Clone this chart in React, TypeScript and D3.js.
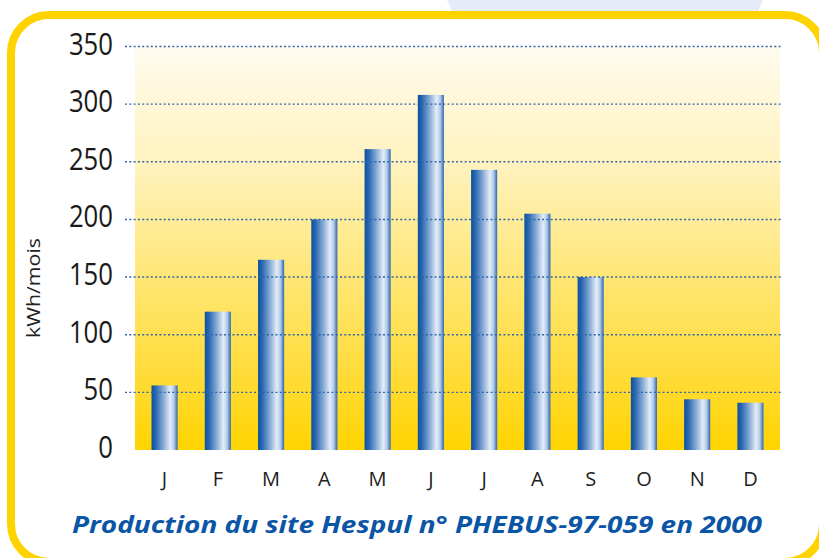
import React from 'react';
import * as d3 from 'd3';

// data
const months = ['J', 'F', 'M', 'A', 'M ', 'J ', 'J  ', 'A ', 'S', 'O', 'N', 'D'];
const monthLabels = ['J', 'F', 'M', 'A', 'M', 'J', 'J', 'A', 'S', 'O', 'N', 'D'];
const production = [56, 120, 165, 200, 261, 308, 243, 205, 150, 63, 44, 41];
const yTicks = [0, 50, 100, 150, 200, 250, 300, 350];
const yTitle = 'kWh/mois';
const chartTitle = 'Production du site Hespul n° PHEBUS-97-059 en 2000';

export default function App() {
  const width = 819;
  const height = 558;
  const plot = { left: 135, right: 780, top: 46.5, bottom: 450 };

  const x = d3.scaleBand().domain(months).range([plot.left, plot.right]).paddingInner(0.51).paddingOuter(0.31);
  const y = d3.scaleLinear().domain([0, 350]).range([plot.bottom, plot.top]);

  return (
    <svg width={width} height={height} style={{ position: 'absolute', left: 0, top: 0, background: '#fff' }}>
      <defs>
        <linearGradient id="bg" x1="0" y1="0" x2="0" y2="1">
          <stop offset="0" stopColor="#fffbee" />
          <stop offset="0.3" stopColor="#fff2bd" />
          <stop offset="0.6" stopColor="#ffe56e" />
          <stop offset="0.8" stopColor="#ffdc3c" />
          <stop offset="1" stopColor="#ffd400" />
        </linearGradient>
        <linearGradient id="bar" x1="0" y1="0" x2="1" y2="0">
          <stop offset="0" stopColor="#0a51a0" />
          <stop offset="0.15" stopColor="#2865af" />
          <stop offset="0.45" stopColor="#84a9d4" />
          <stop offset="0.72" stopColor="#e4edf8" />
          <stop offset="0.86" stopColor="#b3cae6" />
          <stop offset="1" stopColor="#2a66b0" />
        </linearGradient>
      </defs>

      {/* decoration at top */}
      <polygon points="447,0 763,0 756,16 454,16" fill="#e5ecf7" />
      <rect x={11} y={15} width={812} height={547} rx={38} fill="#fff" stroke="#ffd300" strokeWidth={8} />

      <rect x={plot.left} y={plot.top} width={plot.right - plot.left} height={plot.bottom - plot.top} fill="url(#bg)" />

      {production.map((v, i) => (
        <rect key={i} x={x(months[i])} y={y(v)} width={x.bandwidth()} height={y(0) - y(v)} fill="url(#bar)" />
      ))}

      {yTicks.filter(t => t > 0).map(t => (
        <line key={t} x1={125} x2={781} y1={y(t)} y2={y(t)} stroke="#2f66a8" strokeWidth={1.4} strokeDasharray="2,2.3" />
      ))}

      {yTicks.map(t => (
        <text key={t} x={113} y={y(t) + 8} textAnchor="end" fontFamily="'Open Sans', 'Liberation Sans', sans-serif" fontSize={31} fill="#1a1a1a"
          textLength={String(t).length * 14.7} lengthAdjust="spacingAndGlyphs">
          {t}
        </text>
      ))}

      {months.map((m, i) => (
        <text key={m} x={x(m)! + x.bandwidth() / 2} y={486} textAnchor="middle" fontFamily="'Open Sans', sans-serif" fontSize={20} fill="#222">
          {monthLabels[i]}
        </text>
      ))}

      <text transform="translate(40,288) rotate(-90)" textAnchor="middle" fontFamily="'Open Sans', sans-serif" fontSize={19} fill="#222" textLength={100} lengthAdjust="spacingAndGlyphs">
        {yTitle}
      </text>

      <text x={72} y={533} fontFamily="'Open Sans', sans-serif" fontWeight="bold" fontStyle="italic" fontSize={24} fill="#0a55a5" textLength={690} lengthAdjust="spacingAndGlyphs">
        {chartTitle}
      </text>
    </svg>
  );
}
